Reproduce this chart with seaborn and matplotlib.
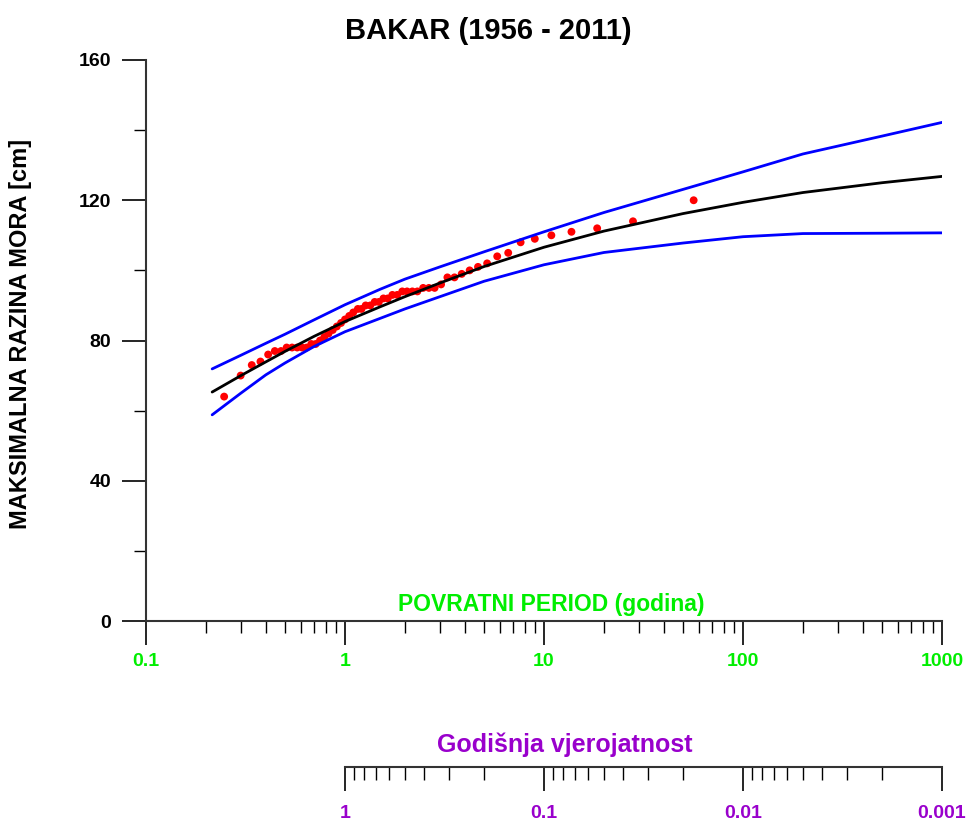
import matplotlib
matplotlib.use("Agg")
import matplotlib.pyplot as plt
import seaborn as sns
import pandas as pd
from matplotlib.ticker import FixedLocator, FixedFormatter, LogLocator, NullFormatter

# Return periods (years) at which the fitted curve and its confidence band are given
curve_T = [0.215, 0.3, 0.4, 0.5, 0.7, 1, 1.5, 2, 3, 5, 10, 20, 50, 100, 200, 500, 1000]
fit_level = [65.3, 70.0, 73.9, 76.9, 81.2, 85.4, 89.6, 92.5, 96.4, 101.1, 106.6, 111.2, 116.2,
             119.4, 122.2, 125.0, 126.8]
upper_level = [71.9, 75.8, 79.2, 81.8, 85.9, 90.2, 94.6, 97.5, 101.0, 105.3, 111.0, 116.5, 123.1,
               128.1, 133.2, 138.3, 142.2]
lower_level = [58.8, 65.0, 70.2, 73.6, 78.3, 82.5, 86.3, 89.0, 92.5, 96.9, 101.6, 105.1, 107.8,
               109.6, 110.5, 110.6, 110.7]

# Annual maxima 1956-2011 (cm) with their plotting-position return periods
obs_T = [56.50, 28.00, 18.50, 13.74, 10.89, 8.99, 7.63, 6.61, 5.82, 5.18,
         4.66, 4.23, 3.86, 3.55, 3.27, 3.04, 2.82, 2.64, 2.47, 2.31,
         2.18, 2.05, 1.94, 1.83, 1.73, 1.64, 1.56, 1.48, 1.41, 1.34,
         1.27, 1.21, 1.16, 1.10, 1.05, 1.00, 0.955, 0.910, 0.868, 0.827,
         0.787, 0.749, 0.712, 0.677, 0.642, 0.608, 0.575, 0.542, 0.509, 0.477,
         0.444, 0.411, 0.376, 0.340, 0.299, 0.247]
obs_level = [120, 114, 112, 111, 110, 109, 108, 105, 104, 102,
             101, 100, 99, 98, 98, 96, 95, 95, 95, 94,
             94, 94, 94, 93, 93, 92, 92, 91, 91, 90,
             90, 89, 89, 88, 87, 86, 85, 84, 83, 82,
             81, 80, 79, 79, 78, 78, 78, 78, 78, 77,
             77, 76, 74, 73, 70, 64]

period_ticks = [0.1, 1, 10, 100, 1000]
period_labels = ["0.1", "1", "10", "100", "1000"]
prob_ticks = [1, 0.1, 0.01, 0.001]
prob_labels = ["1", "0.1", "0.01", "0.001"]
y_major = [0, 40, 80, 120, 160]
y_minor = [20, 60, 100, 140]

GREEN = "#00ee00"
PURPLE = "#9900cc"
SPINE = "#333333"

sns.set_theme(style="ticks")
plt.rcParams["font.family"] = ["Liberation Sans", "DejaVu Sans"]
plt.rcParams["font.weight"] = "bold"

W, H = 966, 823
fig = plt.figure(figsize=(W / 100, H / 100), dpi=100)

ax = fig.add_axes([146 / W, (H - 621) / H, 796 / W, 561 / H])

obs = pd.DataFrame({"T": obs_T, "level": obs_level})
sns.scatterplot(data=obs, x="T", y="level", color="red", s=32, edgecolor="none",
                ax=ax, zorder=2, legend=False)

band = pd.DataFrame({"T": curve_T, "fit": fit_level, "upper": upper_level, "lower": lower_level})
sns.lineplot(data=band, x="T", y="upper", color="#0000ff", lw=2.0, ax=ax, estimator=None, sort=False, zorder=3)
sns.lineplot(data=band, x="T", y="lower", color="#0000ff", lw=2.0, ax=ax, estimator=None, sort=False, zorder=3)
sns.lineplot(data=band, x="T", y="fit", color="black", lw=2.0, ax=ax, estimator=None, sort=False, zorder=4)

ax.set_xscale("log")
ax.set_xlim(0.1, 1000)
ax.set_ylim(0, 160)
ax.set_xlabel("")
ax.set_ylabel("")
for s in ("top", "right"):
    ax.spines[s].set_visible(False)
for s in ("left", "bottom"):
    ax.spines[s].set_color(SPINE)
    ax.spines[s].set_linewidth(1.5)

ax.xaxis.set_major_locator(FixedLocator(period_ticks))
ax.xaxis.set_major_formatter(FixedFormatter(period_labels))
ax.xaxis.set_minor_locator(LogLocator(base=10, subs=range(2, 10)))
ax.xaxis.set_minor_formatter(NullFormatter())
ax.yaxis.set_major_locator(FixedLocator(y_major))
ax.yaxis.set_minor_locator(FixedLocator(y_minor))

ax.tick_params(axis="both", which="major", direction="out", length=17, width=1.2,
               color="black", labelsize=14, pad=8)
ax.tick_params(axis="both", which="minor", direction="out", length=8.5, width=1.0, color="black")
ax.tick_params(axis="x", which="major", labelcolor=GREEN, pad=6)
ax.tick_params(axis="y", which="major", labelcolor="black", pad=8)
for lab in ax.get_xticklabels() + ax.get_yticklabels():
    lab.set_fontweight("bold")

# Secondary scale: annual exceedance probability
ax2 = fig.add_axes([345 / W, (H - 767) / H, 597 / W, 0.0001])
ax2.set_xscale("log")
ax2.set_xlim(1, 0.001)
ax2.set_yticks([])
for s in ("top", "left", "right"):
    ax2.spines[s].set_visible(False)
ax2.spines["bottom"].set_color(SPINE)
ax2.spines["bottom"].set_linewidth(1.5)
ax2.patch.set_alpha(0)
ax2.xaxis.set_major_locator(FixedLocator(prob_ticks))
ax2.xaxis.set_major_formatter(FixedFormatter(prob_labels))
ax2.xaxis.set_minor_locator(LogLocator(base=10, subs=range(2, 10)))
ax2.xaxis.set_minor_formatter(NullFormatter())
ax2.tick_params(axis="x", which="major", direction="out", length=17, width=1.2,
                color="black", labelsize=14, labelcolor=PURPLE, pad=10)
ax2.tick_params(axis="x", which="minor", direction="out", length=9, width=1.0, color="black")
for lab in ax2.get_xticklabels():
    lab.set_fontweight("bold")

fig.text(488 / W, 1 - 31 / H, "BAKAR (1956 - 2011)", ha="center", va="center",
         fontsize=21, fontweight="bold", color="black")
fig.text(21 / W, 1 - 334 / H, "MAKSIMALNA RAZINA MORA [cm]", ha="center", va="center",
         rotation=90, fontsize=17, fontweight="bold", color="black")
fig.text(551 / W, 1 - 604 / H, "POVRATNI PERIOD (godina)", ha="center", va="center",
         fontsize=16.5, fontweight="bold", color=GREEN)
fig.text(565 / W, 1 - 745 / H, "Godišnja vjerojatnost", ha="center", va="center",
         fontsize=18, fontweight="bold", color=PURPLE)

fig.savefig("out.png", dpi=100, facecolor="white")
